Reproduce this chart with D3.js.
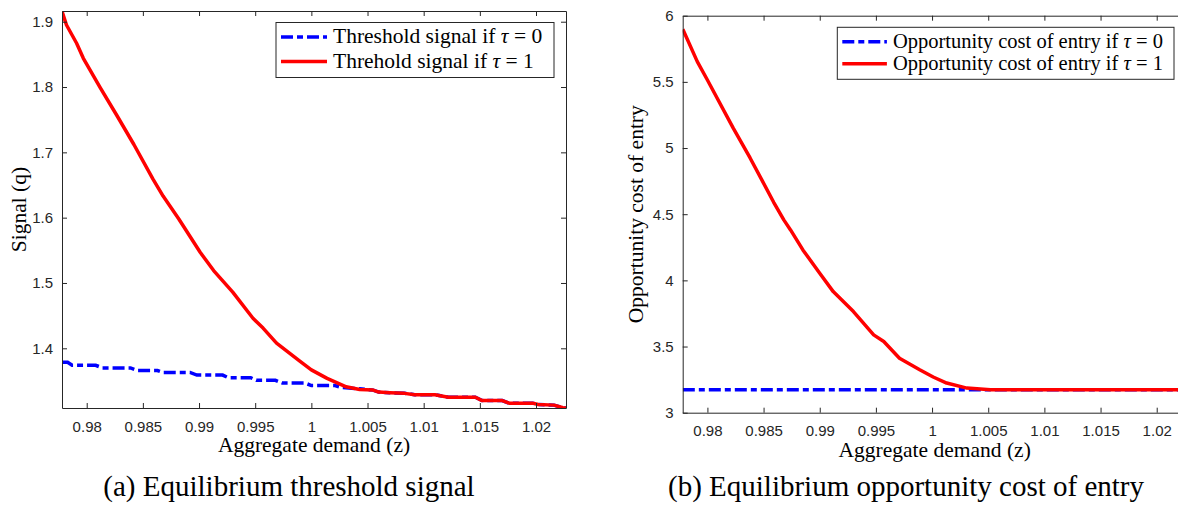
<!DOCTYPE html>
<html>
<head>
<meta charset="utf-8">
<script src="https://cdn.jsdelivr.net/npm/d3@7"></script>
<style>
  html, body { margin: 0; padding: 0; background: #fff; }
  svg { display: block; }
</style>
</head>
<body>
<svg id="chart" width="1178" height="506"></svg>
<script>
// ---------------- data ----------------
const xTicks = [0.98, 0.985, 0.99, 0.995, 1, 1.005, 1.01, 1.015, 1.02];
const xTickLabels = ["0.98", "0.985", "0.99", "0.995", "1", "1.005", "1.01", "1.015", "1.02"];
const xDomain = [0.9778, 1.02267];

const yTicksA = [1.4, 1.5, 1.6, 1.7, 1.8, 1.9];
const yTickLabelsA = ["1.4", "1.5", "1.6", "1.7", "1.8", "1.9"];
const yDomainA = [1.3086, 1.9164];

const yTicksB = [3, 3.5, 4, 4.5, 5, 5.5, 6];
const yTickLabelsB = ["3", "3.5", "4", "4.5", "5", "5.5", "6"];
const yDomainB = [3, 6];

// Panel (a): threshold signal, tau = 1 (red)
const zA1 = [0.9778, 0.9782, 0.9791, 0.9797, 0.9812, 0.9827, 0.9842, 0.9859, 0.9868, 0.9882,
             0.9901, 0.9913, 0.9930, 0.9948, 0.9957, 0.9969, 0.9990, 1.0000, 1.0014, 1.0031,
             1.0043, 1.0055, 1.0060, 1.0070, 1.0083, 1.0092, 1.0110, 1.0122, 1.0146, 1.0152,
             1.0170, 1.0176, 1.0197, 1.0202, 1.0216, 1.0224, 1.02267];
const qA1 = [1.916, 1.895, 1.867, 1.844, 1.799, 1.756, 1.712, 1.659, 1.633, 1.598,
             1.547, 1.519, 1.486, 1.446, 1.431, 1.408, 1.380, 1.367, 1.354, 1.341,
             1.337, 1.336, 1.333, 1.332, 1.331, 1.329, 1.329, 1.325, 1.325, 1.320,
             1.320, 1.316, 1.316, 1.314, 1.313, 1.309, 1.3086];
// Panel (a): threshold signal, tau = 0 (blue)
const zA0 = [0.9778, 0.9783, 0.9787, 0.9808, 0.9814, 0.9839, 0.9845, 0.9863, 0.9868, 0.9892,
             0.9898, 0.9921, 0.9926, 0.9946, 0.9951, 0.9968, 0.9974, 0.9994, 1.0000, 1.0021,
             1.0027, 1.0043, 1.0055, 1.0060, 1.0070, 1.0083, 1.0092, 1.0110, 1.0122, 1.0146,
             1.0152, 1.0170, 1.0176, 1.0197, 1.0202, 1.0216, 1.0224, 1.02267];
const qA0 = [1.3787, 1.3787, 1.374, 1.374, 1.370, 1.370, 1.366, 1.366, 1.363, 1.363,
             1.359, 1.359, 1.355, 1.355, 1.351, 1.351, 1.347, 1.347, 1.343, 1.343,
             1.340, 1.338, 1.336, 1.333, 1.332, 1.331, 1.329, 1.329, 1.325, 1.325,
             1.320, 1.320, 1.316, 1.316, 1.314, 1.313, 1.309, 1.3086];

// Panel (b): opportunity cost of entry, tau = 1 (red)
const zB1 = [0.97781, 0.9791, 0.9800, 0.9823, 0.9838, 0.9859, 0.9868, 0.9874, 0.9885, 0.9900,
             0.9912, 0.9930, 0.9948, 0.9957, 0.9971, 0.9989, 1.0001, 1.0013, 1.0031, 1.0052,
             1.0100, 1.0150, 1.0200, 1.02267];
const cB1 = [5.897, 5.653, 5.514, 5.150, 4.925, 4.590, 4.457, 4.381, 4.230, 4.054,
             3.915, 3.764, 3.588, 3.538, 3.412, 3.325, 3.270, 3.224, 3.186, 3.174,
             3.173, 3.173, 3.173, 3.173];
// Panel (b): opportunity cost of entry, tau = 0 (blue)
const zB0 = [0.97781, 0.9850, 0.9900, 0.9950, 1.0000, 1.0050, 1.0100, 1.0150, 1.0200, 1.02267];
const cB0 = [3.173, 3.173, 3.173, 3.173, 3.173, 3.173, 3.173, 3.173, 3.173, 3.173];

const legendA = ["Threshold signal if ", "Threhold signal if "];
const legendB = ["Opportunity cost of entry if ", "Opportunity cost of entry if "];
const legendTau = ["0", "1"];

// ---------------- drawing ----------------
const svg = d3.select("#chart");
const AX = "#262626";
const SERIF = "'Liberation Serif', 'Times New Roman', serif";
const SANS = "'Liberation Sans', Arial, Helvetica, sans-serif";
const RED = "#ff0000", BLUE = "#0000ff";
const DASH = "12,4,6,4";
const LW = 3.5;

function panel(cfg) {
  const g = svg.append("g");
  const x = d3.scaleLinear().domain(xDomain).range([cfg.left, cfg.right]);
  const y = d3.scaleLinear().domain(cfg.yDomain).range([cfg.bottom, cfg.top]);

  const clipId = "clip-" + cfg.id;
  svg.append("clipPath").attr("id", clipId).append("rect")
    .attr("x", cfg.left).attr("y", cfg.top)
    .attr("width", cfg.right - cfg.left).attr("height", cfg.bottom - cfg.top);

  // lines
  const line = d3.line().x(d => x(d[0])).y(d => y(d[1]));
  const plot = g.append("g").attr("clip-path", `url(#${clipId})`);
  plot.append("path").datum(d3.zip(cfg.z0, cfg.v0))
    .attr("d", line).attr("fill", "none").attr("stroke", BLUE)
    .attr("stroke-width", LW).attr("stroke-dasharray", DASH);
  plot.append("path").datum(d3.zip(cfg.z1, cfg.v1))
    .attr("d", line).attr("fill", "none").attr("stroke", RED)
    .attr("stroke-width", LW).attr("stroke-linejoin", "round");

  // axes
  const styleAxis = sel => {
    sel.attr("font-family", SANS).attr("font-size", 15);
    sel.selectAll("path,line").attr("stroke", AX).attr("stroke-width", 1);
    sel.selectAll("text").attr("fill", AX);
  };
  g.append("g").attr("transform", `translate(0,${cfg.bottom})`)
    .call(d3.axisBottom(x).tickValues(xTicks).tickFormat((d, i) => xTickLabels[i])
      .tickSizeInner(-5).tickSizeOuter(0).tickPadding(13))
    .call(styleAxis);
  g.append("g").attr("transform", `translate(0,${cfg.top})`)
    .call(d3.axisTop(x).tickValues(xTicks).tickFormat("")
      .tickSizeInner(-5).tickSizeOuter(0))
    .call(styleAxis);
  g.append("g").attr("transform", `translate(${cfg.left},0)`)
    .call(d3.axisLeft(y).tickValues(cfg.yTicks).tickFormat((d, i) => cfg.yTickLabels[i])
      .tickSizeInner(-5).tickSizeOuter(0).tickPadding(9))
    .call(styleAxis);
  g.append("g").attr("transform", `translate(${cfg.right},0)`)
    .call(d3.axisRight(y).tickValues(cfg.yTicks).tickFormat("")
      .tickSizeInner(-5).tickSizeOuter(0))
    .call(styleAxis);

  // axis labels
  g.append("text").attr("x", (cfg.left + cfg.right) / 2).attr("y", cfg.bottom + 44)
    .attr("text-anchor", "middle").attr("font-family", SERIF).attr("font-size", 21.5)
    .attr("fill", "#000").text("Aggregate demand (z)");
  g.append("text")
    .attr("transform", `translate(${cfg.ylabelX},${(cfg.top + cfg.bottom) / 2}) rotate(-90)`)
    .attr("text-anchor", "middle").attr("font-family", SERIF).attr("font-size", 21.5)
    .attr("fill", "#000").text(cfg.ylabel);

  // caption
  g.append("text").attr("x", cfg.captionX).attr("y", 496)
    .attr("text-anchor", "middle").attr("font-family", SERIF).attr("font-size", 29)
    .attr("fill", "#000").text(cfg.caption);

  // legend
  const L = cfg.legend;
  const lg = g.append("g");
  lg.append("rect").attr("x", L.x).attr("y", L.y).attr("width", L.w).attr("height", L.h)
    .attr("fill", "#fff").attr("stroke", AX).attr("stroke-width", 1);
  const rows = [
    { color: BLUE, dash: DASH, text: cfg.legendText[0], tau: legendTau[0] },
    { color: RED, dash: null, text: cfg.legendText[1], tau: legendTau[1] }
  ];
  rows.forEach((r, i) => {
    const yy = L.y + L.row0 + i * L.dy;
    lg.append("line").attr("x1", L.x + 5).attr("x2", L.x + 5 + L.sample)
      .attr("y1", yy).attr("y2", yy).attr("stroke", r.color).attr("stroke-width", LW)
      .attr("stroke-dasharray", r.dash);
    const t = lg.append("text").attr("x", L.x + 11 + L.sample).attr("y", yy + 6)
      .attr("font-family", SERIF).attr("font-size", L.fs).attr("fill", "#000")
      .attr("xml:space", "preserve");
    t.append("tspan").text(r.text);
    t.append("tspan").attr("font-style", "italic").text("τ");
    t.append("tspan").text(" = " + r.tau);
  });
}

panel({
  id: "a", left: 62, right: 566, top: 11, bottom: 408,
  yDomain: yDomainA, yTicks: yTicksA, yTickLabels: yTickLabelsA,
  z0: zA0, v0: qA0, z1: zA1, v1: qA1,
  ylabel: "Signal (q)", ylabelX: 26,
  caption: "(a) Equilibrium threshold signal", captionX: 289,
  legendText: legendA,
  legend: { x: 276, y: 22.5, w: 278, h: 55, row0: 14.5, dy: 24.5, sample: 46, fs: 21.5 }
});

panel({
  id: "b", left: 682.7, right: 1186.7, top: 15.7, bottom: 412.7,
  yDomain: yDomainB, yTicks: yTicksB, yTickLabels: yTickLabelsB,
  z0: zB0, v0: cB0, z1: zB1, v1: cB1,
  ylabel: "Opportunity cost of entry", ylabelX: 643,
  caption: "(b) Equilibrium opportunity cost of entry", captionX: 906,
  legendText: legendB,
  legend: { x: 837.3, y: 27.3, w: 336.7, h: 52, row0: 14.5, dy: 22, sample: 44.6, fs: 20.5 }
});
</script>
</body>
</html>
